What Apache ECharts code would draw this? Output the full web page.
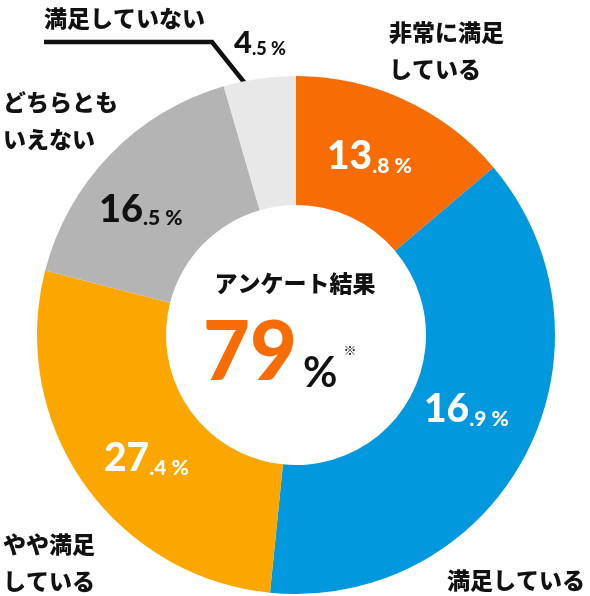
<!DOCTYPE html>
<html>
<head>
<meta charset="utf-8">
<script src="https://cdn.jsdelivr.net/npm/echarts@6/dist/echarts.min.js"></script>
<style>
  html, body { margin: 0; padding: 0; background: #fff; }
  #chart { width: 590px; height: 596px; }
</style>
</head>
<body>
<div id="chart"></div>
<script>
// アンケート結果：満足度のドーナツグラフ
var categories = ['非常に満足している', '満足している', 'やや満足している', 'どちらともいえない', '満足していない'];
// 円弧の大きさ
var shares = [13.8, 37.8, 27.4, 16.5, 4.5];
// 図に書かれている数値
var printed = ['13.8', '16.9', '27.4', '16.5', '4.5'];
var total = 79;

// 見た目
var colors = ['#f76c05', '#0198dd', '#fca600', '#b4b4b4', '#e8e8e8'];
var pctColors = ['#ffffff', '#ffffff', '#ffffff', '#111111', '#111111'];
var bigSize = [39, 39, 39, 38, 31];
var smallSize = [21, 21, 21, 21, 18];
// 数値ラベル：左端, ベースライン
var pctAt = [[327, 172], [424, 425], [104, 474], [99, 224], [234, 55]];
// 項目名ラベル：左端, 上端
var nameText = ['非常に満足\nしている', '満足している', 'やや満足\nしている', 'どちらとも\nいえない', '満足していない'];
var nameAt = [[389, 14], [447, 562], [3, 526], [3, 84], [44, 0]];

var cx = 296, cy = 335, r0 = 130, r1 = 259;
var numFont = 'Lato';
var jpFont = 'Noto Sans CJK JP';
var heavy = 900;

function loadChart() {
  var myChart = echarts.init(document.getElementById('chart'));

  var pieData = [], nameData = [];
  for (var i = 0; i < categories.length; i++) {
    var B = bigSize[i], s = smallSize[i];
    pieData.push({
      name: categories[i],
      value: shares[i],
      itemStyle: { color: colors[i] },
      label: {
        color: pctColors[i],
        rich: {
          a: { fontFamily: numFont, fontWeight: heavy, fontSize: B, lineHeight: B, verticalAlign: 'bottom' },
          b: { fontFamily: numFont, fontWeight: heavy, fontSize: s, lineHeight: 0.226 * B + 0.774 * s + 3, verticalAlign: 'bottom' }
        }
      }
    });
    nameData.push({
      name: categories[i],
      value: shares[i],
      labelLine: { show: i === 4 }
    });
  }

  // 「満足していない」の引き出し線の起点（円弧の中央角から計算）
  var sum = 0, before = 0;
  for (var k = 0; k < shares.length; k++) sum += shares[k];
  for (var k2 = 0; k2 < 4; k2++) before += shares[k2];
  var mid = (before + shares[4] / 2) / sum * Math.PI * 2;
  var lineStart = [cx + 231 * Math.sin(mid), cy - 231 * Math.cos(mid)];

  var option = {
    animation: false,
    title: [{
      text: 'アンケート結果',
      left: 'center',
      top: 268,
      padding: 0,
      textStyle: { fontFamily: jpFont, fontWeight: heavy, fontSize: 23, lineHeight: 30, color: '#111' }
    }, {
      text: '{n|' + total + '}{p|%}{s|※}',
      left: 203,
      top: 314,
      padding: 0,
      textStyle: {
        rich: {
          n: { fontFamily: numFont, fontWeight: heavy, fontSize: 81, lineHeight: 80, color: '#f76c05', verticalAlign: 'bottom' },
          p: { fontFamily: numFont, fontWeight: 'bold', fontSize: 42, lineHeight: 51, color: '#111', verticalAlign: 'bottom', padding: [0, 0, 0, 6] },
          s: { fontFamily: jpFont, fontSize: 13, lineHeight: 13, color: '#111', verticalAlign: 'top', padding: [30, 0, 0, 6] }
        }
      }
    }],
    series: [{
      type: 'pie',
      center: [cx, cy],
      radius: [r0, r1],
      startAngle: 90,
      clockwise: true,
      silent: true,
      avoidLabelOverlap: false,
      itemStyle: { borderWidth: 0 },
      label: {
        show: true,
        position: 'inside',
        formatter: function (p) {
          var parts = printed[p.dataIndex].split('.');
          return '{a|' + parts[0] + '}{b|.' + parts[1] + ' %}';
        }
      },
      labelLine: { show: false },
      labelLayout: function (p) {
        var i = p.dataIndex;
        return { x: pctAt[i][0], y: pctAt[i][1] + 0.113 * bigSize[i], align: 'left', verticalAlign: 'bottom' };
      },
      data: pieData
    }, {
      type: 'pie',
      center: [cx, cy],
      radius: [r0, r1],
      startAngle: 90,
      clockwise: true,
      silent: true,
      avoidLabelOverlap: false,
      itemStyle: { color: 'rgba(0,0,0,0)', borderWidth: 0 },
      label: {
        show: true,
        position: 'outside',
        fontFamily: jpFont,
        fontWeight: heavy,
        fontSize: 23,
        lineHeight: 37,
        color: '#111',
        formatter: function (p) { return nameText[p.dataIndex]; }
      },
      labelLine: { show: false, smooth: false, lineStyle: { color: '#111', width: 4.5 } },
      labelLayout: function (p) {
        var i = p.dataIndex;
        var res = { x: nameAt[i][0], y: nameAt[i][1], align: 'left', verticalAlign: 'top' };
        if (i === 4) {
          res.labelLinePoints = [lineStart, [212, 42], [44, 42]];
        }
        return res;
      },
      data: nameData
    }]
  };

  myChart.setOption(option);
}

loadChart();
</script>
</body>
</html>
